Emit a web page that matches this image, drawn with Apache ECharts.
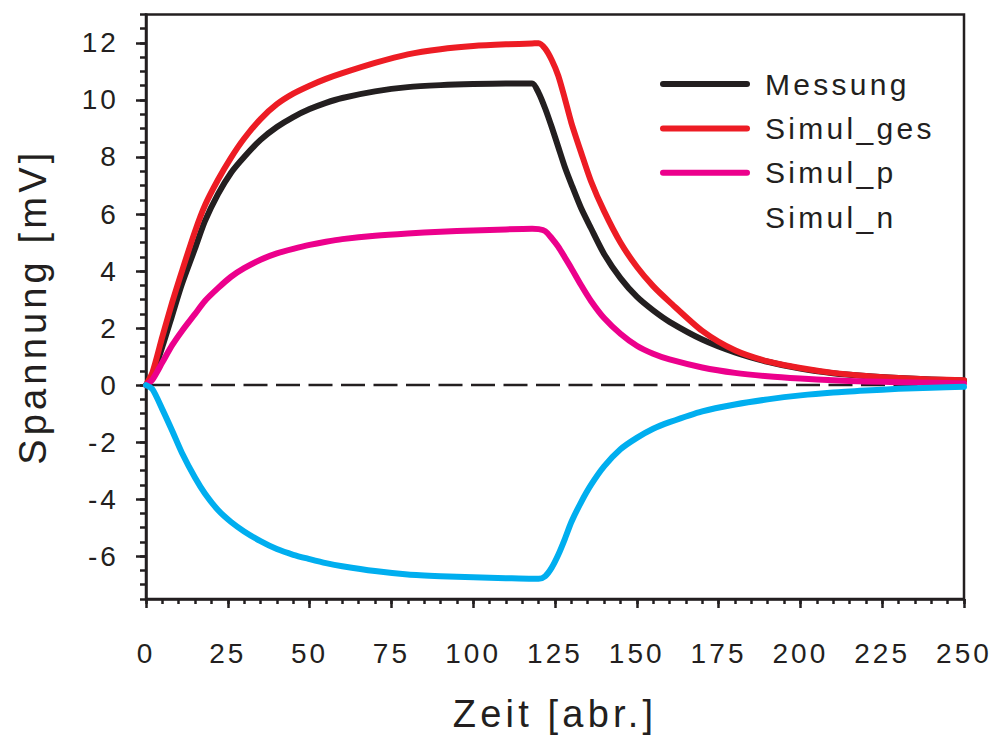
<!DOCTYPE html>
<html>
<head>
<meta charset="utf-8">
<script src="https://cdn.jsdelivr.net/npm/echarts@6/dist/echarts.min.js"></script>
<style>
  html, body { margin: 0; padding: 0; background: #fff; }
  #chart { width: 994px; height: 738px; }
  #chart text { letter-spacing: 0.11em; }
</style>
</head>
<body>
<div id="chart"></div>
<script>
// Time axis (arbitrary units)
const times = [0, 2, 5, 8, 11, 15, 18, 22, 26, 30, 35, 40, 45, 50, 55, 60, 70, 80, 90, 100,
  110, 118, 120, 122, 124, 126, 128, 130, 133, 136, 140, 145, 150, 155, 160, 170, 180, 190, 200, 210,
  220, 230, 240, 250];

// Voltage [mV]
const messung = [0, 0.35, 1.35, 2.45, 3.55, 4.8, 5.75, 6.7, 7.45, 8.0, 8.6, 9.05, 9.4, 9.68, 9.9,
  10.07, 10.3, 10.45, 10.52, 10.56, 10.58, 10.58, 10.25, 9.7, 9.05, 8.35, 7.65, 7.05, 6.2, 5.5,
  4.6, 3.75, 3.1, 2.62, 2.22, 1.6, 1.15, 0.82, 0.58, 0.42, 0.32, 0.25, 0.2, 0.16];
const simulGes = [0, 0.45, 1.7, 2.9, 4.0, 5.4, 6.3, 7.2, 7.98, 8.65, 9.33, 9.85, 10.22, 10.5, 10.74,
  10.94, 11.3, 11.6, 11.78, 11.89, 11.95, 11.98, 11.99, 11.8, 11.4, 10.85, 10.05, 9.2, 8.15, 7.15,
  6.1, 5.0, 4.15, 3.47, 2.92, 1.9, 1.22, 0.83, 0.6, 0.43, 0.32, 0.25, 0.2, 0.17];
const simulP = [0, 0.2, 0.8, 1.4, 1.9, 2.5, 2.95, 3.4, 3.8, 4.1, 4.4, 4.62, 4.78, 4.92, 5.03,
  5.12, 5.24, 5.32, 5.38, 5.42, 5.46, 5.48, 5.47, 5.4, 5.15, 4.85, 4.48, 4.1, 3.5, 2.95,
  2.35, 1.8, 1.38, 1.1, 0.9, 0.62, 0.43, 0.31, 0.23, 0.17, 0.13, 0.1, 0.08, 0.06];
const simulN = [0, -0.15, -0.85, -1.6, -2.38, -3.25, -3.8, -4.38, -4.8, -5.13, -5.47, -5.75, -5.95, -6.1, -6.24,
  -6.35, -6.52, -6.64, -6.7, -6.74, -6.77, -6.79, -6.79, -6.7, -6.4, -5.95, -5.4, -4.8, -4.1, -3.5,
  -2.85, -2.25, -1.85, -1.53, -1.3, -0.92, -0.68, -0.5, -0.36, -0.26, -0.19, -0.13, -0.09, -0.06];

// Axis tick values
const yMajorTicks = [-6, -4, -2, 0, 2, 4, 6, 8, 10, 12];
const xRange = [0, 250];
const yRange = [-7.5, 13];

const INK = '#231f20';
const FONT = '"Liberation Sans", Arial, sans-serif';
// capsule-shaped legend swatch (rounded line ends)
const CAPSULE = 'path://M3,0 L87,0 A3,3 0 0 1 87,6 L3,6 A3,3 0 0 1 3,0 Z';

const pairs = vals => times.map((t, i) => [t, vals[i]]);

const lineSeries = (name, vals, color) => ({
  name, type: 'line', data: pairs(vals),
  showSymbol: false, symbol: 'none',
  smooth: 0.25,
  lineStyle: { color, width: 6, cap: 'round', join: 'round' },
  itemStyle: { color },
  z: 3
});

const chart = echarts.init(document.getElementById('chart'), null, { renderer: 'svg' });

chart.setOption({
  animation: false,
  backgroundColor: '#ffffff',
  grid: {
    left: 146, right: 30, top: 14.4, bottom: 136.8,
    show: true, borderColor: INK, borderWidth: 2.5, backgroundColor: 'transparent'
  },
  legend: {
    orient: 'vertical',
    left: 655, top: 64,
    itemWidth: 92, itemHeight: 6, itemGap: 14.4,
    icon: CAPSULE,
    selectedMode: false,
    textStyle: { fontFamily: FONT, fontSize: 30, color: INK, lineHeight: 30, padding: [0, 0, 0, 9] },
    data: [
      { name: 'Messung' },
      { name: 'Simul_ges' },
      { name: 'Simul_p' },
      { name: 'Simul_n', itemStyle: { opacity: 0 } }
    ]
  },
  xAxis: [
    {
      type: 'value', min: xRange[0], max: xRange[1], interval: 25,
      name: 'Zeit [abr.]', nameLocation: 'middle', nameGap: 96,
      nameTextStyle: { fontFamily: FONT, fontSize: 38, color: INK },
      axisLine: { show: true, onZero: false, lineStyle: { color: INK, width: 2.5 } },
      axisTick: { show: true, inside: false, length: 9, lineStyle: { color: INK, width: 2.5 } },
      axisLabel: { margin: 40, fontFamily: FONT, fontSize: 28, color: INK },
      splitLine: { show: false }
    },
    {
      type: 'value', min: xRange[0], max: xRange[1], interval: 5, position: 'bottom',
      axisLine: { show: false, onZero: false },
      axisTick: { show: true, inside: false, length: 5, lineStyle: { color: INK, width: 2.5 } },
      axisLabel: { show: false },
      splitLine: { show: false }
    }
  ],
  yAxis: [
    {
      type: 'value', min: yRange[0], max: yRange[1],
      name: 'Spannung [mV]', nameLocation: 'middle', nameGap: 94, nameRotate: 90,
      nameTextStyle: { fontFamily: FONT, fontSize: 38, color: INK },
      axisLine: { show: true, onZero: false, lineStyle: { color: INK, width: 2.5 } },
      axisTick: { show: true, inside: false, length: 10, customValues: yMajorTicks, lineStyle: { color: INK, width: 2.5 } },
      axisLabel: { margin: 27, fontFamily: FONT, fontSize: 28, color: INK, customValues: yMajorTicks },
      splitLine: { show: false }
    },
    {
      type: 'value', min: yRange[0], max: yRange[1], interval: 0.5, position: 'left',
      axisLine: { show: false, onZero: false },
      axisTick: { show: true, inside: false, length: 6, lineStyle: { color: INK, width: 2.5 } },
      axisLabel: { show: false },
      splitLine: { show: false }
    }
  ],
  series: [
    {
      name: 'Nulllinie', type: 'line', data: [[xRange[0], 0], [xRange[1], 0]],
      showSymbol: false, symbol: 'none', silent: true, z: 2,
      lineStyle: { color: INK, width: 2.5, type: [24, 8.5] }
    },
    lineSeries('Messung', messung, '#231f20'),
    lineSeries('Simul_ges', simulGes, '#ed1c24'),
    lineSeries('Simul_p', simulP, '#ec008c'),
    lineSeries('Simul_n', simulN, '#00aeef')
  ]
});
</script>
</body>
</html>
